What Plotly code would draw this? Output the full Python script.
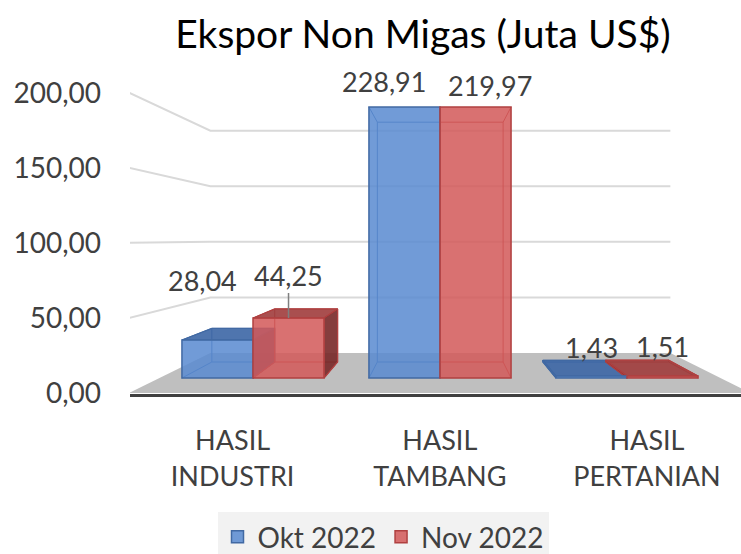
import numpy as np
import plotly.graph_objects as go

# ---------------- data ----------------
categories = ["HASIL<br>INDUSTRI", "HASIL<br>TAMBANG", "HASIL<br>PERTANIAN"]
series_names = ["Okt 2022", "Nov 2022"]
okt_2022 = [28.04, 228.91, 1.43]
nov_2022 = [44.25, 219.97, 1.51]
y_ticks = [0, 50, 100, 150, 200]
title_text = "Ekspor Non Migas (Juta US$)"
AXIS_MAX = 200  # value-axis maximum of the original chart (taller bars are cut there)

# ---------------- style / geometry (pixels) ----------------
W, H = 741, 554
L, R, T, B = 130, 741, 60, 394
X0, SX = 253.0, 187.0      # bar plane: pixel of category 0, px per category
Y0, SY = 378.0, 1.355      # bar plane: pixel of value 0, px per unit
VXp, VYp = 442.0, 239.0    # vanishing point (pixels)
S_FRONT, S_BACK, S_WALL = -0.108, 0.115, 0.18
BAR_W = 0.38
FONT = "Lato"
TXT = "#404040"

styles = [
    dict(front="rgba(88,138,208,0.85)", top="rgba(60,102,165,0.9)",
         side="rgba(45,80,130,0.9)", edge="#4169a3"),
    dict(front="rgba(210,88,88,0.85)", top="rgba(160,60,60,0.9)",
         side="rgba(120,40,40,0.9)", edge="#b04040"),
]
label_dx = [[-15, -20, 0], [0, 14, 0]]
label_dy = [[60, 26, 29], [43, 22, 29]]
label_leader = [[False, False, False], [True, False, False]]

# bar-plane (x2/y2) ranges and vanishing point in its data units
VXd = (VXp - X0) / SX
VYd = (Y0 - VYp) / SY
x2_range = [(L - X0) / SX, (R - X0) / SX]
y2_range = [(Y0 - B) / SY, (Y0 - T) / SY]
# front plane (x/y: category labels and value labels) ranges
F = 1 - S_FRONT
cx = VXp + F * (X0 - VXp)
cy = VYp + F * (Y0 - VYp)
x_range = [(L - cx) / (F * SX), (R - cx) / (F * SX)]
y_range = [(cy - B) / (F * SY), (cy - T) / (F * SY)]


def to_front(x, v, s):
    """bar-plane point (category units, value) at depth s -> front-plane data coords"""
    xb, vb = x + s * (VXd - x), v + s * (VYd - v)
    px, py = X0 + SX * xb, Y0 - SY * vb
    return (px - cx) / (F * SX), (cy - py) / (F * SY)


def add_poly(store, pts, close=True):
    if close:
        pts = list(pts) + [pts[0]]
    store[0].extend([p[0] for p in pts] + [None])
    store[1].extend([p[1] for p in pts] + [None])


xmin, xmax = -0.5, len(categories) - 0.5
floor = ([], [])
add_poly(floor, [to_front(xmin, 0, S_FRONT), to_front(xmin, 0, S_WALL),
                 to_front(xmax, 0, S_WALL), to_front(xmax, 0, S_FRONT)])
grid = ([], [])
for v in y_ticks[1:]:
    add_poly(grid, [to_front(xmin, v, S_FRONT), to_front(xmin, v, S_WALL),
                    to_front(xmax, v, S_WALL)], close=False)

series_vals = [okt_2022, nov_2022]
faces = {}
edges = {}
annotations = []
bars = []
for si, vals in enumerate(series_vals):
    st = styles[si]
    heights = np.minimum(np.array(vals, dtype=float), AXIS_MAX)
    offset = -BAR_W if si == 0 else 0.0
    tops, sides, edg = ([], []), ([], []), ([], [])
    for ci, h in enumerate(heights):
        xl = ci + offset
        xr = xl + BAR_W
        P = to_front
        fl, fr, ful, fur = P(xl, 0, 0), P(xr, 0, 0), P(xl, h, 0), P(xr, h, 0)
        bll, blr = P(xl, 0, S_BACK), P(xr, 0, S_BACK)
        bul, bur = P(xl, h, S_BACK), P(xr, h, S_BACK)
        if h < VYd:
            add_poly(tops, [ful, fur, bur, bul])
        if xr < VXd:
            add_poly(sides, [fr, fur, bur, blr])
        if xl > VXd:
            add_poly(sides, [fl, ful, bul, bll])
        for seg in ([bll, blr, bur, bul, bll], [fl, bll], [fr, blr], [ful, bul], [fur, bur]):
            add_poly(edg, seg, close=False)
        txt = f"{vals[ci]:.2f}".replace(".", ",")
        xc = (xl + xr) / 2
        common = dict(x=xc, y=h, xref="x2", yref="y2", text=txt,
                      font=dict(family=FONT, size=27, color=TXT))
        if label_leader[si][ci]:
            annotations.append(dict(**common, showarrow=True, ax=label_dx[si][ci],
                                    ay=-label_dy[si][ci], arrowhead=0, arrowwidth=1.5,
                                    arrowcolor="#7f7f7f", standoff=0))
        else:
            annotations.append(dict(**common, showarrow=False, xshift=label_dx[si][ci],
                                    yshift=label_dy[si][ci], xanchor="center",
                                    yanchor="middle"))
    faces[si] = (tops, sides)
    edges[si] = edg
    bars.append(go.Bar(
        x=list(range(len(categories))), y=heights, width=BAR_W, offset=offset,
        name=series_names[si], xaxis="x2", yaxis="y2",
        marker=dict(color=st["front"], line=dict(color=st["edge"], width=1.5)),
        hoverinfo="skip",
    ))

fig = go.Figure()
deco = dict(xaxis="x", yaxis="y", showlegend=False, hoverinfo="skip")
fig.add_trace(go.Scatter(x=floor[0], y=floor[1], mode="lines", fill="toself",
                         fillcolor="#bfbfbf", line=dict(width=0, color="#bfbfbf"), **deco))
fig.add_trace(go.Scatter(x=grid[0], y=grid[1], mode="lines",
                         line=dict(color="#d9d9d9", width=2), **deco))
for si in range(len(series_vals)):
    st = styles[si]
    tops, sides = faces[si]
    fig.add_trace(go.Scatter(x=edges[si][0], y=edges[si][1], mode="lines",
                             line=dict(color=st["edge"], width=1), **deco))
    fig.add_trace(go.Scatter(x=tops[0], y=tops[1], mode="lines", fill="toself",
                             fillcolor=st["top"], line=dict(color=st["edge"], width=1.2), **deco))
    if sides[0]:
        fig.add_trace(go.Scatter(x=sides[0], y=sides[1], mode="lines", fill="toself",
                                 fillcolor=st["side"], line=dict(color=st["edge"], width=1.2),
                                 **deco))
for b in bars:
    fig.add_trace(b)

fig.update_layout(
    width=W, height=H,
    margin=dict(l=L, r=W - R, t=T, b=H - B, pad=0, autoexpand=False),
    paper_bgcolor="white", plot_bgcolor="rgba(0,0,0,0)",
    separators=", ",
    barmode="overlay",
    showlegend=True,
    hovermode=False,
    title=dict(text=title_text, x=423 / W, xanchor="center", xref="container",
               y=1 - 34 / H, yanchor="middle", yref="container",
               font=dict(family=FONT, size=39, color="#000000")),
    xaxis=dict(range=x_range, type="linear", fixedrange=True,
               tickmode="array", tickvals=list(range(len(categories))), ticktext=categories,
               showgrid=False, zeroline=False, ticks="", ticklabelstandoff=21,
               showline=True, linecolor="#404040", linewidth=3,
               tickfont=dict(family=FONT, size=27, color=TXT)),
    yaxis=dict(range=y_range, tickmode="array", tickvals=y_ticks, tickformat=".2f",
               showgrid=False, zeroline=False, showline=False, ticks="", fixedrange=True,
               ticklabelstandoff=28, tickfont=dict(family=FONT, size=28, color=TXT)),
    xaxis2=dict(range=x2_range, overlaying="x", anchor="y2", visible=False, type="linear",
                fixedrange=True),
    yaxis2=dict(range=y2_range, overlaying="y", anchor="x2", visible=False, fixedrange=True),
    legend=dict(orientation="h", xref="container", yref="container",
                x=383 / W, xanchor="center", y=1 - 512 / H, yanchor="top",
                bgcolor="#f2f2f2", font=dict(family=FONT, size=28, color=TXT),
                itemwidth=30, traceorder="normal"),
    annotations=annotations,
)

fig.write_html("out.html", config={"displayModeBar": False, "staticPlot": True},
               post_script="document.body.style.margin='0';")
